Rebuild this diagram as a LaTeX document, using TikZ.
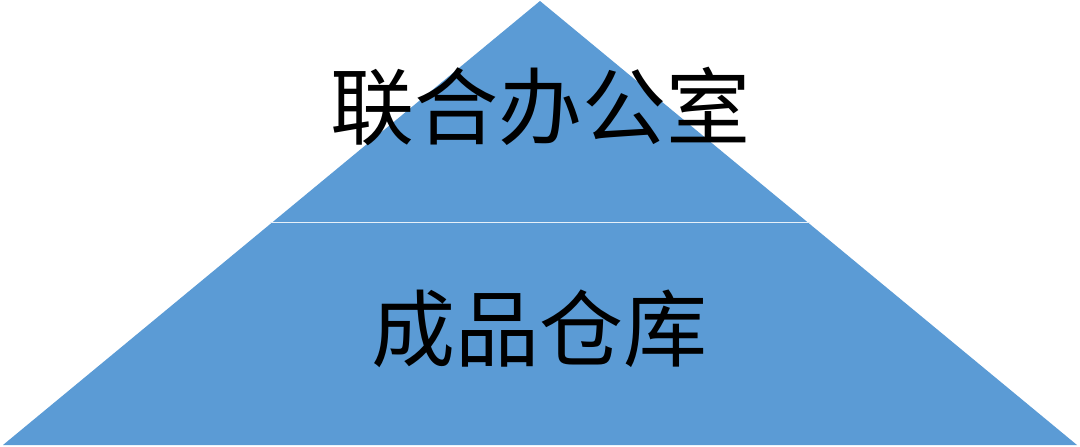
\documentclass[tikz,border=0pt]{standalone}
\usepackage{fontspec}
\newfontfamily\cjk{Noto Sans CJK SC}
\definecolor{pyr}{HTML}{5B9BD5}
\tikzset{
  layer/.style={fill=pyr, draw=none},
  sep/.style={draw=white!85!pyr, line width=1.2pt},
  lbl/.style={font=\cjk\fontsize{84}{84}\selectfont, text=black, inner sep=0pt, anchor=center}
}
\begin{document}
\begin{tikzpicture}[x=1pt,y=-1pt]
\useasboundingbox (0,0) rectangle (1080,447);
\coordinate (apex) at (540,1);
\coordinate (bl) at (3,445);
\coordinate (br) at (1077,445);
\coordinate (ml) at (270,222.5);
\coordinate (mr) at (810,222.5);
\fill[layer] (apex) -- (br) -- (bl) -- cycle;
\draw[sep] (ml) -- (mr);
\node[lbl] (top) at (540,106) {联合办公室};
\node[lbl] (bot) at (539,329) {成品仓库};
\end{tikzpicture}
\end{document}
